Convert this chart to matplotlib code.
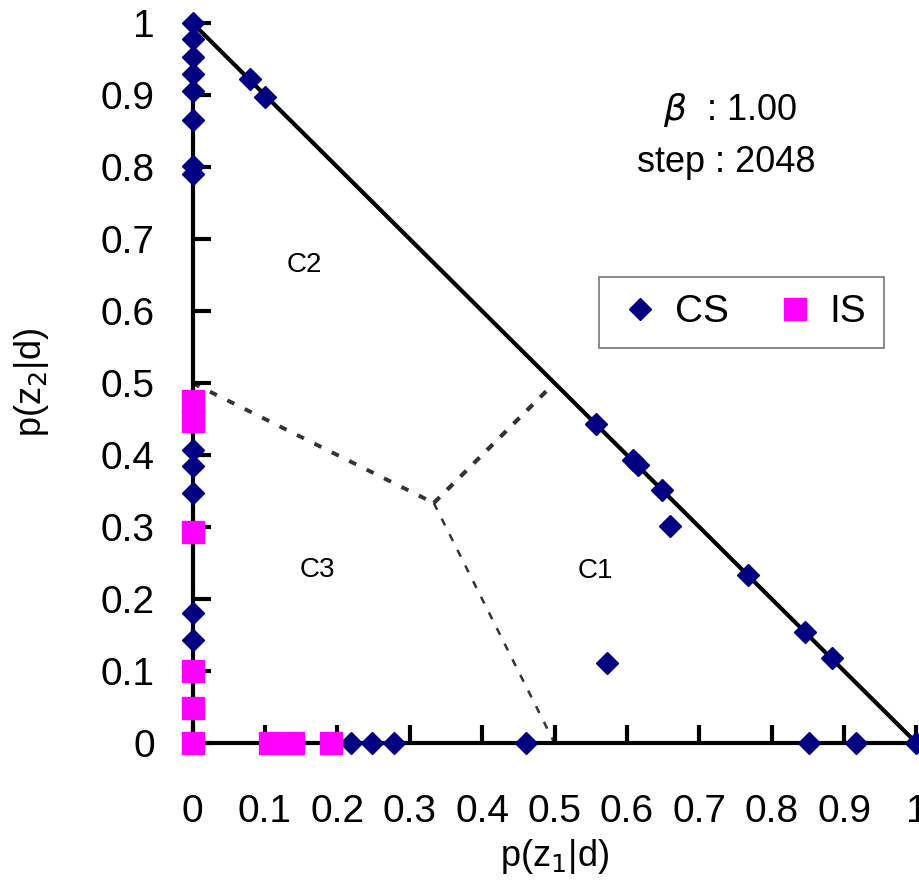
import matplotlib
matplotlib.use("Agg")
import matplotlib.pyplot as plt

plt.rcParams['font.family'] = ['Liberation Sans', 'DejaVu Sans']

# CS points (navy diamonds)
cs_x = [0, 0, 0, 0, 0, 0, 0, 0,
        0.079, 0.100,
        0, 0, 0, 0, 0,
        0.219, 0.248, 0.278, 0.461,
        0.558, 0.608, 0.616, 0.648, 0.660, 0.767, 0.846, 0.883, 0.572,
        0.851, 0.916, 1.0]
cs_y = [1.0, 0.978, 0.953, 0.929, 0.906, 0.865, 0.801, 0.790,
        0.922, 0.897,
        0.407, 0.385, 0.347, 0.181, 0.143,
        0, 0, 0, 0,
        0.443, 0.393, 0.386, 0.351, 0.301, 0.233, 0.154, 0.118, 0.111,
        0, 0, 0]

# IS points (magenta squares)
is_x = [0, 0, 0, 0, 0, 0, 0.107, 0.139, 0.191]
is_y = [0.475, 0.447, 0.293, 0.100, 0.048, 0.0, 0, 0, 0]

ticks = [0, 0.1, 0.2, 0.3, 0.4, 0.5, 0.6, 0.7, 0.8, 0.9, 1]
tick_labels = ['0', '0.1', '0.2', '0.3', '0.4', '0.5', '0.6', '0.7', '0.8', '0.9', '1']

# region boundaries (centroid of the simplex)
cx, cy = 1 / 3, 1 / 3

W, H = 920, 882
fig = plt.figure(figsize=(W / 100, H / 100), dpi=100)
ax = fig.add_axes([192.5 / W, 139 / H, 724 / W, 720 / H])
ax.set_xlim(0, 1)
ax.set_ylim(0, 1)

for s in ['top', 'right']:
    ax.spines[s].set_visible(False)
for s in ['left', 'bottom']:
    ax.spines[s].set_linewidth(3)
    ax.spines[s].set_zorder(2)

ax.plot([0, 1], [1, 0], color='black', lw=3, clip_on=False, zorder=2)

dash_col = '#333333'
ax.plot([0, cx], [0.5, cy], color=dash_col, lw=2.8, ls=(0, (2, 3)), zorder=1)
ax.plot([cx, 0.5], [cy, 0.5], color=dash_col, lw=3, ls=(0, (2, 2.5)), zorder=1)
ax.plot([cx, 0.5], [cy, 0], color=dash_col, lw=1.8, ls=(0, (3, 4)), zorder=1)

ax.plot(cs_x, cs_y, 'D', color='#000080', ms=11.5, mec='#000080', ls='none',
        clip_on=False, zorder=4, label='CS')
ax.plot(is_x, is_y, 's', color='#FF00FF', ms=16.5, mec='#FF00FF', ls='none',
        clip_on=False, zorder=5, label='IS')

ax.set_xticks(ticks)
ax.set_xticklabels(tick_labels)
ax.set_yticks(ticks)
ax.set_yticklabels(tick_labels)
ax.tick_params(axis='both', direction='in', length=13, width=3, labelsize=28)
ax.tick_params(axis='x', pad=37)
ax.tick_params(axis='y', pad=27)

ax.set_xlabel('p(z$_1$|d)', fontsize=26, labelpad=5)
ax.set_ylabel('p(z$_2$|d)', fontsize=26, labelpad=36)

ax.text(0.155, 0.664, 'C2', fontsize=20, ha='center', va='center')
ax.text(0.172, 0.240, 'C3', fontsize=20, ha='center', va='center')
ax.text(0.556, 0.239, 'C1', fontsize=20, ha='center', va='center')

fig.text(730 / W, 1 - 110 / H, r'$\beta$  : 1.00', fontsize=26, ha='center', va='center')
fig.text(726 / W, 1 - 163 / H, 'step : 2048', fontsize=26, ha='center', va='center')

leg = ax.legend(loc='center', bbox_to_anchor=(741.5 / W, 1 - 312.5 / H),
                bbox_transform=fig.transFigure, ncol=2, fontsize=28,
                frameon=True, fancybox=False, edgecolor='#555555',
                handletextpad=0.3, columnspacing=1.1, borderpad=0.45,
                handlelength=1.2, borderaxespad=0)
leg.get_frame().set_linewidth(1.2)
for h in leg.legend_handles:
    h.set_clip_on(False)

fig.savefig('out.png', dpi=100)
